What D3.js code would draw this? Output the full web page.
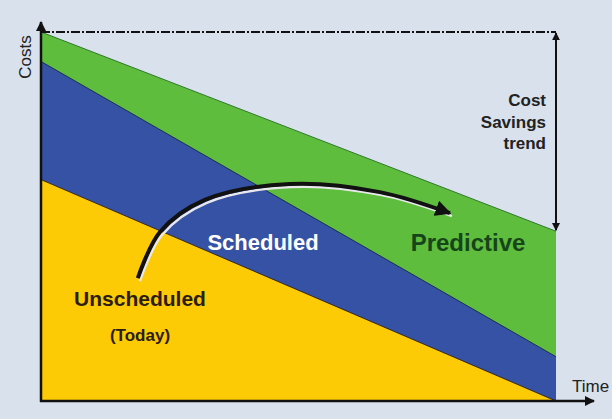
<!DOCTYPE html>
<html>
<head>
<meta charset="utf-8">
<script src="https://cdn.jsdelivr.net/npm/d3@7"></script>
<style>
  html, body { margin: 0; padding: 0; background: #d9e1ed; }
  svg { display: block; }
</style>
</head>
<body>
<div id="chart"></div>
<script>
// time runs from today (0) to the end (1)
var time = [0, 1]
// relative cost level of each maintenance strategy
var predictive = [100, 46]
var scheduled = [92, 12]
var unscheduled = [60, 0]
// the "moving up" arrow, in data units
var arrowTime = [0.188, 0.231, 0.318, 0.483, 0.658, 0.794]
var arrowCost = [33.3, 45.8, 54.5, 58.8, 56.6, 50.9]

var w = 612
var h = 419

var svg = d3.select("#chart").append("svg")
    .attr("width", w)
    .attr("height", h)

svg.append("rect")
    .attr("width", w).attr("height", h)
    .attr("fill", "#d9e1ed")

// scales
var x = d3.scaleLinear().domain([0, 1]).range([41, 556])
var y = d3.scaleLinear().domain([0, 100]).range([401, 32])

function seriesArea(vals) {
    return d3.area()
        .x(function(d, i) { return x(time[i]) })
        .y0(y(0))
        .y1(function(d) { return y(d) })(vals)
}
function seriesLine(vals) {
    return d3.line()
        .x(function(d, i) { return x(time[i]) })
        .y(function(d) { return y(d) })(vals)
}

// arrow markers
var defs = svg.append("defs")
defs.append("marker")
    .attr("id", "head")
    .attr("viewBox", "0 0 10 10")
    .attr("refX", 9).attr("refY", 5)
    .attr("markerWidth", 4).attr("markerHeight", 4)
    .attr("orient", "auto-start-reverse")
    .append("path")
    .attr("d", "M0,0 L10,5 L0,10 z")
    .attr("fill", "#111")

// stacked looking areas, back to front
var layers = [
    { vals: predictive, fill: "#5ebd3c", edge: "#2f7a2a" },
    { vals: scheduled, fill: "#3552a5", edge: "#1c2a5a" },
    { vals: unscheduled, fill: "#fdca06", edge: "#3a2a10" }
]
layers.forEach(function(l) {
    svg.append("path")
        .attr("d", seriesArea(l.vals))
        .attr("fill", l.fill)
    svg.append("path")
        .attr("d", seriesLine(l.vals))
        .attr("fill", "none")
        .attr("stroke", l.edge)
        .attr("stroke-width", 1)
})

// dash-dot reference line at the top cost level
svg.append("line")
    .attr("x1", x(0)).attr("x2", x(1))
    .attr("y1", y(100)).attr("y2", y(100))
    .attr("stroke", "#111")
    .attr("stroke-width", 2)
    .attr("stroke-dasharray", "9,2,2,2")

// cost savings double arrow
svg.append("line")
    .attr("x1", x(1)).attr("x2", x(1))
    .attr("y1", y(100) + 1).attr("y2", y(predictive[1]) - 1)
    .attr("stroke", "#111")
    .attr("stroke-width", 2)
    .attr("marker-start", "url(#head)")
    .attr("marker-end", "url(#head)")

// axes
svg.append("line")
    .attr("x1", x(0)).attr("x2", x(0))
    .attr("y1", y(0) + 1).attr("y2", 22)
    .attr("stroke", "#111").attr("stroke-width", 2.5)
    .attr("marker-end", "url(#head)")
svg.append("line")
    .attr("x1", x(0) - 1).attr("x2", 594)
    .attr("y1", y(0)).attr("y2", y(0))
    .attr("stroke", "#111").attr("stroke-width", 2.5)
    .attr("marker-end", "url(#head)")

// curved arrow with a light highlight under it
var arrowLine = d3.line()
    .x(function(d, i) { return x(arrowTime[i]) })
    .y(function(d) { return y(d) })
    .curve(d3.curveCatmullRom)
svg.append("path")
    .attr("d", arrowLine(arrowCost))
    .attr("transform", "translate(2,3)")
    .attr("fill", "none")
    .attr("stroke", "#e8e8ee")
    .attr("stroke-width", 2.5)
svg.append("path")
    .attr("d", arrowLine(arrowCost))
    .attr("fill", "none")
    .attr("stroke", "#111")
    .attr("stroke-width", 4)
    .attr("marker-end", "url(#head)")

var font = "'Liberation Sans', Arial, sans-serif"

// axis titles
svg.append("text")
    .text("Costs")
    .attr("transform", "translate(31, 57) rotate(-90)")
    .attr("text-anchor", "middle")
    .attr("font-family", font)
    .attr("font-size", 17)
    .attr("fill", "#222")
svg.append("text")
    .text("Time")
    .attr("x", 572).attr("y", 392)
    .attr("text-anchor", "start")
    .attr("font-family", font)
    .attr("font-size", 17)
    .attr("fill", "#222")

// strategy labels
svg.append("text")
    .text("Scheduled")
    .attr("x", 263).attr("y", 250)
    .attr("text-anchor", "middle")
    .attr("font-family", font).attr("font-weight", "bold")
    .attr("font-size", 22)
    .attr("fill", "#ffffff")
svg.append("text")
    .text("Predictive")
    .attr("x", 468).attr("y", 251)
    .attr("text-anchor", "middle")
    .attr("font-family", font).attr("font-weight", "bold")
    .attr("font-size", 24)
    .attr("fill", "#17451a")
svg.append("text")
    .text("Unscheduled")
    .attr("x", 140).attr("y", 306)
    .attr("text-anchor", "middle")
    .attr("font-family", font).attr("font-weight", "bold")
    .attr("font-size", 21)
    .attr("fill", "#2b1d12")
svg.append("text")
    .text("(Today)")
    .attr("x", 140).attr("y", 341)
    .attr("text-anchor", "middle")
    .attr("font-family", font).attr("font-weight", "bold")
    .attr("font-size", 17)
    .attr("fill", "#2b1d12")

// savings note
var note = ["Cost", "Savings", "trend"]
svg.selectAll(".note")
    .data(note)
    .enter()
    .append("text")
    .attr("class", "note")
    .text(function(d) { return d })
    .attr("x", 546)
    .attr("y", function(d, i) { return 106 + i * 21.5 })
    .attr("text-anchor", "end")
    .attr("font-family", font).attr("font-weight", "bold")
    .attr("font-size", 17)
    .attr("fill", "#222")
</script>
</body>
</html>
